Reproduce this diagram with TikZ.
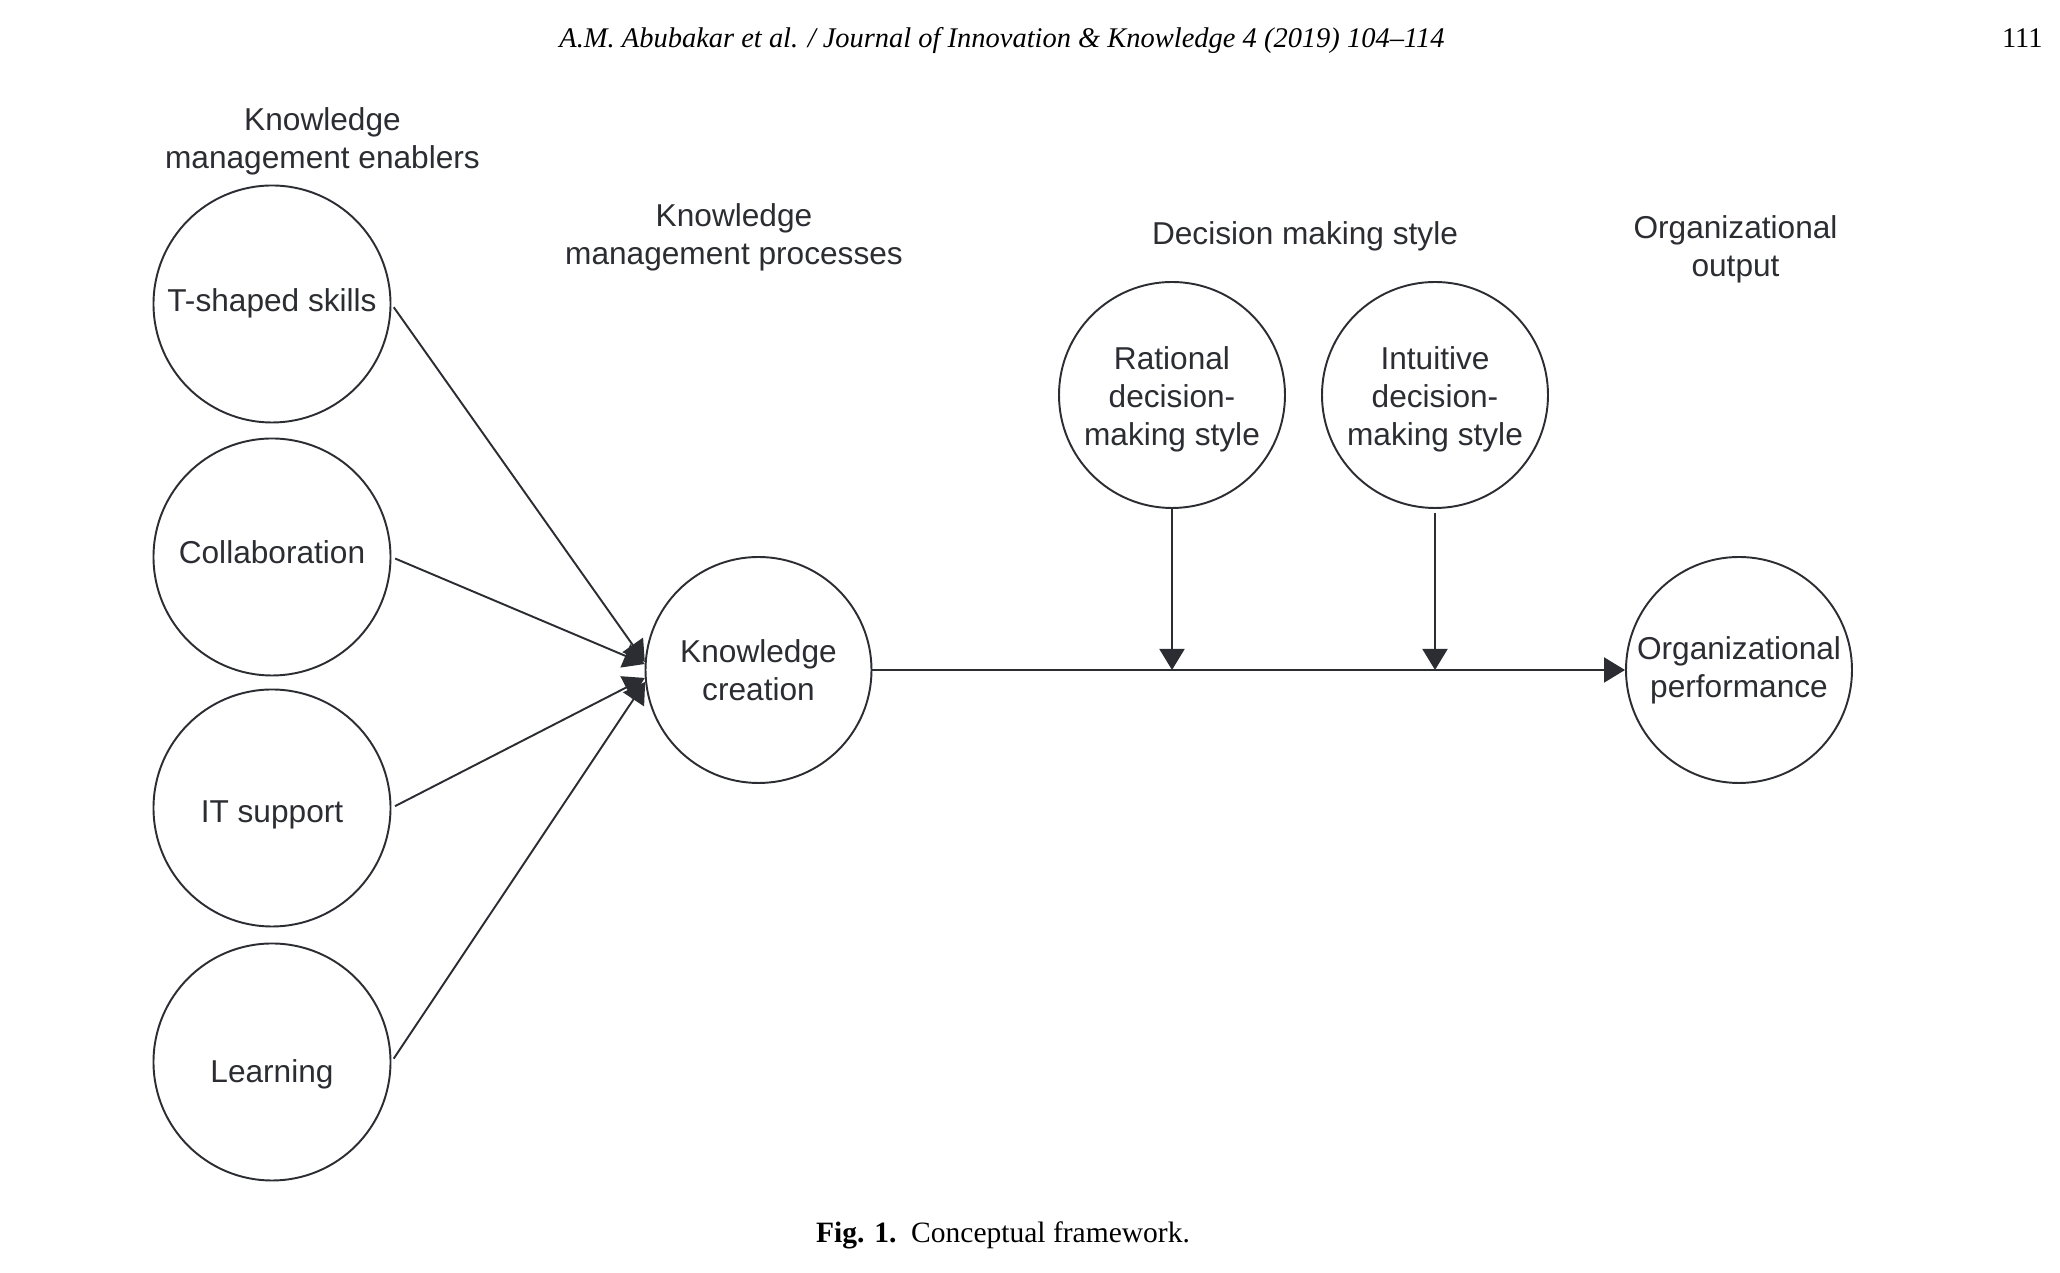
\documentclass[tikz,border=0pt]{standalone}
\usepackage{fontspec}
\setmainfont{Liberation Serif}
\setsansfont{Liberation Sans}
\usetikzlibrary{arrows.meta}
\usetikzlibrary{positioning}
\definecolor{FigInk}{HTML}{2B2D32}
\tikzset{
  construct/.style={draw=FigInk, circle, line width=0.55pt, inner sep=0pt,
    align=center, text=FigInk, font=\sffamily\fontsize{9}{10.8}\selectfont},
  enabler/.style={construct, minimum size=2.37cm},
  latent/.style={construct, minimum size=2.26cm},
  heading/.style={align=center, text=FigInk,
    font=\sffamily\fontsize{9}{10.8}\selectfont},
  link/.style={draw=FigInk, line width=0.55pt,
    -{Triangle[length=0.21cm,width=0.25cm]}}
}

\begin{document}
\begin{tikzpicture}
  \useasboundingbox (0,0) rectangle (20.6,12.73);

  % running head and caption
  \node[anchor=base, font=\itshape\fontsize{8.1}{9.7}\selectfont] (runhead)
    at (10.02,12.25) {A.M. Abubakar et al. / Journal of Innovation \& Knowledge 4 (2019) 104--114};
  \node[anchor=base east, font=\fontsize{8.1}{9.7}\selectfont] (pageno)
    at (20.55,12.25) {111};
  \node[anchor=base, font=\fontsize{8.4}{10}\selectfont] (caption)
    at (10.03,0.30) {\textbf{Fig. 1.}\enspace Conceptual framework.};

  % column headings
  \node[heading] (hEnablers) at (3.225,11.32) {Knowledge\\management enablers};
  \node[heading] (hProcesses) at (7.34,10.355) {Knowledge\\management processes};
  \node[heading, anchor=base] (hStyle) at (13.05,10.28) {Decision making style};
  \node[heading] (hOutput) at (17.355,10.24) {Organizational\\output};

  % constructs (text nudged as in the figure)
  \foreach \name/\y/\dy/\txt in {ts/9.69/0.01/T-shaped skills, co/7.16/0.05/Collaboration,
                                 it/4.65/-0.065/IT support, le/2.11/-0.12/Learning}{%
    \node[enabler] (\name) at (2.72,\y) {\raisebox{\dy cm}[\height][\depth]{\txt}};
  }
  \node[latent] (kc) at (7.585,6.03) {Knowledge\\creation};
  \node[latent] (rd) at (11.72,8.78) {\raisebox{-0.04cm}[\height][\depth]{Rational}\\
    \raisebox{-0.04cm}[\height][\depth]{decision-}\\\raisebox{-0.04cm}[\height][\depth]{making style}};
  \node[latent] (id) at (14.35,8.78) {\raisebox{-0.04cm}[\height][\depth]{Intuitive}\\
    \raisebox{-0.04cm}[\height][\depth]{decision-}\\\raisebox{-0.04cm}[\height][\depth]{making style}};
  \node[latent] (op) at (17.39,6.03) {Organizational\\performance};

  % paths
  \foreach \name/\ang in {ts/176, co/177, it/184, le/186}{%
    \draw[link, shorten <=0.04cm] (\name.east) -- (kc.\ang);
  }
  \draw[link] (kc.east) -- (op.west);

  \coordinate (rdfoot) at (rd |- kc.east);
  \coordinate (idfoot) at (id |- kc.east);
  \draw[link] (rd.south) -- (rdfoot);
  \draw[link, shorten <=0.04cm] (id.south) -- (idfoot);
\end{tikzpicture}
\end{document}
